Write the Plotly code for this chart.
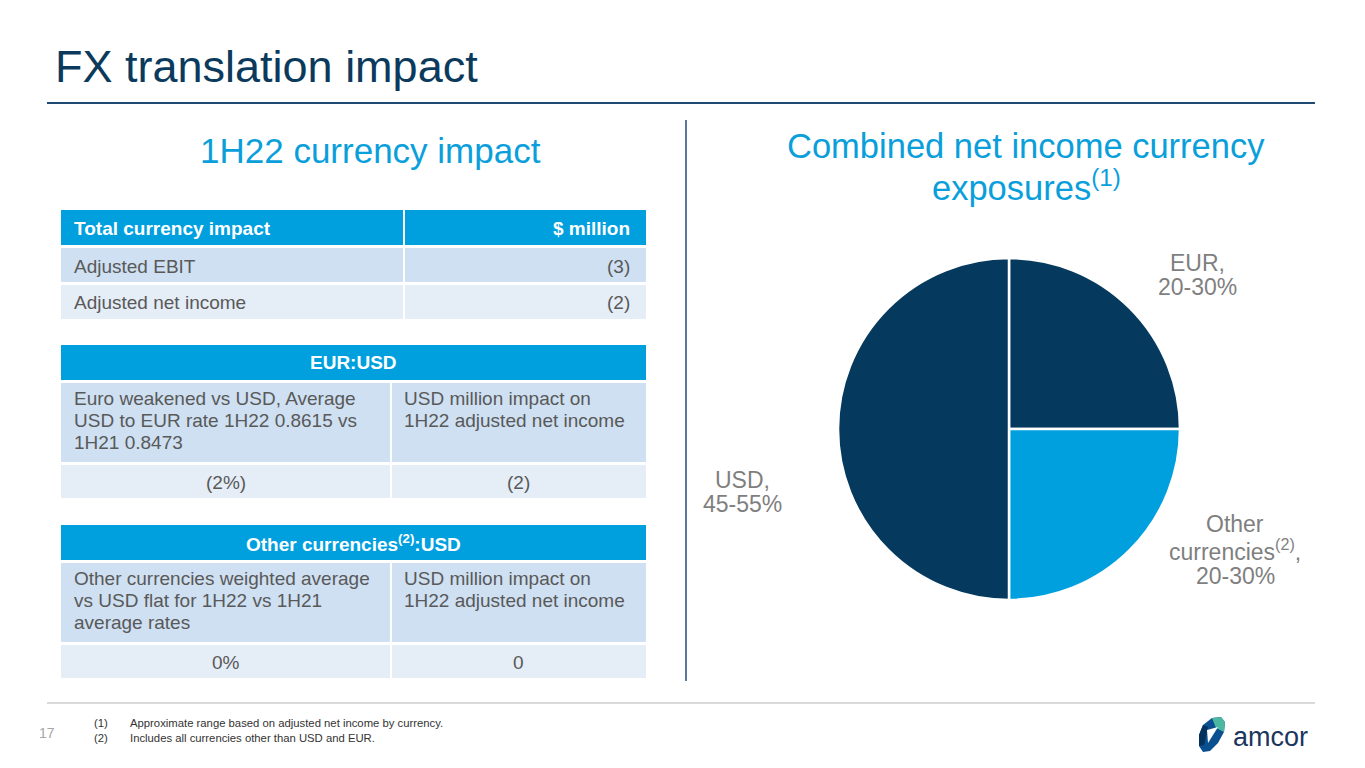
import plotly.graph_objects as go

# page body keeps an 8px margin, so the figure is drawn 8px smaller and shifted
OFF = 8
W, H = 1365 - OFF, 768 - OFF

# pie data (midpoints of the shown ranges)
pie_labels = ["EUR", "Other currencies", "USD"]
pie_values = [25, 25, 50]
pie_colors = ["#053A5E", "#00A0DF", "#053A5E"]
pie_text = [["EUR,", "20-30%"], ["Other", "currencies<sup>(2)</sup>,", "20-30%"], ["USD,", "45-55%"]]

# table 1
t1_header = ["Total currency impact", "$ million"]
t1_rows = ["Adjusted EBIT", "Adjusted net income"]
t1_values = ["(3)", "(2)"]

# table 2
t2_header = "EUR:USD"
t2_desc = [["Euro weakened vs USD, Average", "USD to EUR rate 1H22 0.8615 vs", "1H21 0.8473"],
           ["USD million impact on", "1H22 adjusted net income"]]
t2_values = ["(2%)", "(2)"]

# table 3
t3_header = "Other currencies<sup>(2)</sup>:USD"
t3_desc = [["Other currencies weighted average", "vs USD flat for 1H22 vs 1H21", "average rates"],
           ["USD million impact on", "1H22 adjusted net income"]]
t3_values = ["0%", "0"]

footnotes = ["Approximate range based on adjusted net income by currency.",
             "Includes all currencies other than USD and EUR."]

NAVY = "#0B3A5C"
BLUE = "#00A0DF"
ROW1 = "#CEE0F2"
ROW2 = "#E5EDF7"
GREY = "#595959"
FONT = "Liberation Sans, Arial, sans-serif"
TS = 19  # table font size


def px(x):
    return (x - OFF) / W


def py(y):
    return 1 - (y - OFF) / H


shapes = []
annotations = []


def rect(x0, y0, x1, y1, color):
    shapes.append(dict(type="rect", xref="paper", yref="paper", x0=px(x0), x1=px(x1),
                       y0=py(y1), y1=py(y0), fillcolor=color, line=dict(width=0), layer="below"))


def text(x, y, s, size=TS, color=GREY, xanchor="left", yanchor="middle", bold=False, align="left"):
    if bold:
        s = "<b>" + s + "</b>"
    annotations.append(dict(x=px(x), y=py(y), xref="paper", yref="paper", text=s, showarrow=False,
                            xanchor=xanchor, yanchor=yanchor, align=align,
                            font=dict(family=FONT, size=size, color=color)))


def lines(x, y, rows, gap, **kw):
    for i, r in enumerate(rows):
        text(x, y + i * gap, r, **kw)


def line(x0, y0, x1, y1, color, width):
    shapes.append(dict(type="line", xref="paper", yref="paper", x0=px(x0), x1=px(x1),
                       y0=py(y0), y1=py(y1), line=dict(color=color, width=width)))


def path(points, color):
    d = "M " + " L ".join("%f %f" % (px(x), py(y)) for x, y in points) + " Z"
    shapes.append(dict(type="path", xref="paper", yref="paper", path=d,
                       fillcolor=color, line=dict(width=0)))


# title + rules
text(53, 67, "FX translation impact", size=45, color=NAVY)
line(47, 103, 1315, 103, "#1F4B73", 2)
line(686, 120, 686, 681, "#1F4B73", 1.5)
line(47, 703, 1315, 703, "#D9D9D9", 2)

text(370, 150, "1H22 currency impact", size=35, color="#0A9FDB", xanchor="center")
text(1026, 146, "Combined net income currency", size=34.5, color="#0A9FDB", xanchor="center")
text(1026, 186, "exposures<sup>(1)</sup>", size=34.5, color="#0A9FDB", xanchor="center")

# table 1
L, R, S1 = 61, 646, 404
rect(L, 210, S1 - 1, 245, BLUE)
rect(S1 + 1, 210, R, 245, BLUE)
text(72, 229, t1_header[0], bold=True, color="white")
text(632, 229, t1_header[1], bold=True, color="white", xanchor="right")
for i, (lab, val) in enumerate(zip(t1_rows, t1_values)):
    y0 = 248 + i * 37
    c = ROW1 if i == 0 else ROW2
    rect(L, y0, S1 - 1, y0 + 34, c)
    rect(S1 + 1, y0, R, y0 + 34, c)
    text(72, y0 + 18, lab)
    text(632, y0 + 18, val, xanchor="right")

# tables 2 and 3
S2 = 391
for top, head, desc, vals in [(345, t2_header, t2_desc, t2_values),
                              (525, t3_header, t3_desc, t3_values)]:
    rect(L, top, R, top + 35, BLUE)
    text((L + R) / 2, top + 18, head, bold=True, color="white", xanchor="center")
    rect(L, top + 38, S2 - 1, top + 117, ROW1)
    rect(S2 + 1, top + 38, R, top + 117, ROW1)
    lines(72, top + 53, desc[0], 22)
    lines(402, top + 53, desc[1], 22)
    rect(L, top + 120, S2 - 1, top + 153, ROW2)
    rect(S2 + 1, top + 120, R, top + 153, ROW2)
    text((L + S2) / 2, top + 137, vals[0], xanchor="center")
    text((S2 + R) / 2, top + 137, vals[1], xanchor="center")

# pie labels
LABEL_GREY = "#7F7F7F"
lines(1197, 263, pie_text[0], 24, size=23, color=LABEL_GREY, xanchor="center")
lines(1235, 524, pie_text[1], 26, size=23, color=LABEL_GREY, xanchor="center")
lines(742, 480, pie_text[2], 24, size=23, color=LABEL_GREY, xanchor="center")

# footer
text(47, 733, "17", size=14, color="#A6A6A6", xanchor="center")
for i, note in enumerate(footnotes):
    y = 723 + i * 15
    text(92, y, "(%d)" % (i + 1), size=11.3, color="#333333")
    text(128, y, note, size=11.3, color="#333333")

# logo (approximate)
path([(1212, 718), (1221, 717), (1225, 722), (1224, 732), (1218, 743), (1210, 751),
      (1203, 752), (1199, 746), (1199, 735), (1203, 725)], "#0A4F8F")
path([(1212, 718), (1221, 717), (1225, 722), (1224, 732), (1216, 728)], "#4CB8A4")
path([(1199, 735), (1203, 725), (1208, 727), (1204, 745), (1199, 746)], "#05325C")
path([(1207, 730), (1218, 727), (1208, 743)], "white")
text(1270, 737, "amcor", size=27, color="#1B365D", xanchor="center")

fig = go.Figure()
fig.add_trace(go.Pie(labels=pie_labels, values=pie_values, sort=False, direction="clockwise",
                     rotation=0, textinfo="none", hoverinfo="label+value",
                     marker=dict(colors=pie_colors, line=dict(color="white", width=2.5)),
                     domain=dict(x=[px(838), px(1180)], y=[py(600), py(258)]),
                     showlegend=False))
fig.update_layout(width=W, height=H, margin=dict(l=0, r=0, t=0, b=0),
                  paper_bgcolor="white", plot_bgcolor="white",
                  shapes=shapes, annotations=annotations, showlegend=False,
                  font=dict(family=FONT))
fig.write_html("out.html")
